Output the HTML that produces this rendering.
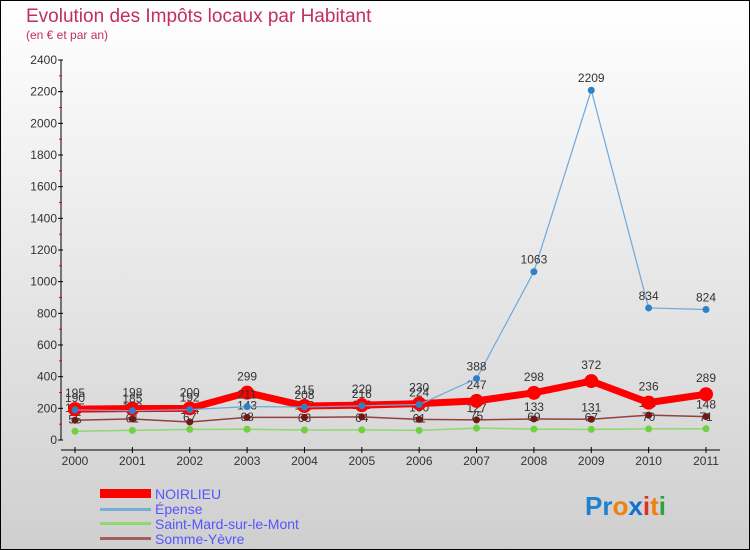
<!DOCTYPE html>
<html><head><meta charset="utf-8"><style>
body{margin:0}
#c{width:750px;height:550px;position:relative;overflow:hidden;background:linear-gradient(#ffffff,#cfcfcf);box-sizing:border-box;border:1px solid #000;font-family:"Liberation Sans","DejaVu Sans",sans-serif}
</style></head><body>
<div id="c">
<svg id="s" width="750" height="550" style="position:absolute;left:-1px;top:-1px">
<text x="26" y="22" font-size="19" fill="#c0305a">Evolution des Impôts locaux par Habitant</text>
<text x="26" y="39" font-size="12" fill="#c0305a">(en € et par an)</text>
<g id="g"></g>
<g>
<rect x="100" y="489" width="51" height="9" fill="#f00"/>
<text x="155" y="499" font-size="14" fill="#5555ff">NOIRLIEU</text>
<rect x="100" y="508" width="51" height="3" fill="#7aaed0"/>
<text x="155" y="514" font-size="14" fill="#5555ff">Épense</text>
<rect x="100" y="522" width="51" height="3" fill="#90d870"/>
<text x="155" y="529" font-size="14" fill="#5555ff">Saint-Mard-sur-le-Mont</text>
<rect x="100" y="537" width="51" height="3" fill="#a06060"/>
<text x="155" y="544" font-size="14" fill="#5555ff">Somme-Yèvre</text>
</g>
<g font-size="26" font-weight="bold">
<text x="585" y="515"><tspan fill="#2080d0">Pr</tspan><tspan fill="#f08010">o</tspan><tspan fill="#1070d0">x</tspan><tspan fill="#e03020">i</tspan><tspan fill="#f08010">t</tspan><tspan fill="#30a040">i</tspan></text>
</g>
</svg>
</div>
<script>
const years=["2000","2001","2002","2003","2004","2005","2006","2007","2008","2009","2010","2011"];
const yTicks=[0,200,400,600,800,1000,1200,1400,1600,1800,2000,2200,2400];
const noirlieu=[195,198,200,299,215,220,230,247,298,372,236,289];
const epense=[190,185,192,211,208,216,224,388,1063,2209,834,824];
const saintMard=[55,61,67,68,63,64,61,75,69,67,70,71];
const sommeYevre=[125,133,114,143,143,146,130,127,133,131,157,148];
const NS="http://www.w3.org/2000/svg";
const g=document.getElementById('g');
const X=i=>75+i*(706-75)/11;
const Y=v=>440-v*(380/2400);
function el(t,a,p){const e=document.createElementNS(NS,t);for(const k in a)e.setAttribute(k,a[k]);(p||g).appendChild(e);return e;}
// y axis
let ax=el('line',{x1:61,y1:60,x2:61,y2:440,stroke:'#000'});


yTicks.forEach((v,i)=>{
 el('line',{x1:58,y1:Y(v),x2:63,y2:Y(v),stroke:'#000'});
 if(i<yTicks.length-1)el('line',{x1:59,y1:Y(v+100),x2:62,y2:Y(v+100),stroke:'#e00'});
 const t=el('text',{x:57,y:Y(v)+4,'font-size':12,fill:'#333','text-anchor':'end'});
 t.textContent=v;
 
 
});
let xa=el('line',{x1:61,y1:450,x2:720,y2:450,stroke:'#000'});


years.forEach((y,i)=>{
 el('line',{x1:X(i),y1:447,x2:X(i),y2:453,stroke:'#000'});
 const t=el('text',{x:X(i),y:465,'font-size':12,fill:'#333','text-anchor':'middle'});
 t.textContent=y;
 
 
});
function series(d,name,col,w,r,dot,lab){
 const p=el('polyline',{points:d.map((v,i)=>X(i)+','+Y(v)).join(' '),fill:'none',stroke:col,'stroke-width':w,'stroke-linejoin':'round'});
 
 
 d.forEach((v,i)=>{
  const c=el('circle',{cx:X(i),cy:Y(v),r:r,fill:dot});
  
  
  const t=el('text',{x:X(i),y:Y(v)+lab,'font-size':12,fill:'#333','text-anchor':'middle'});
  t.textContent=v;
  
  
 });
}
series(saintMard,'saint-mard','#90d870',1.5,3.5,'#70d040',-8);
series(sommeYevre,'somme-yevre','#904040',1.5,3.5,'#701818',-8);
series(noirlieu,'noirlieu','#f00',7,7,'#f00',-12);
series(epense,'epense','#70a8d8',1.2,3.5,'#3080c8',-8);
</script>
</body></html>
